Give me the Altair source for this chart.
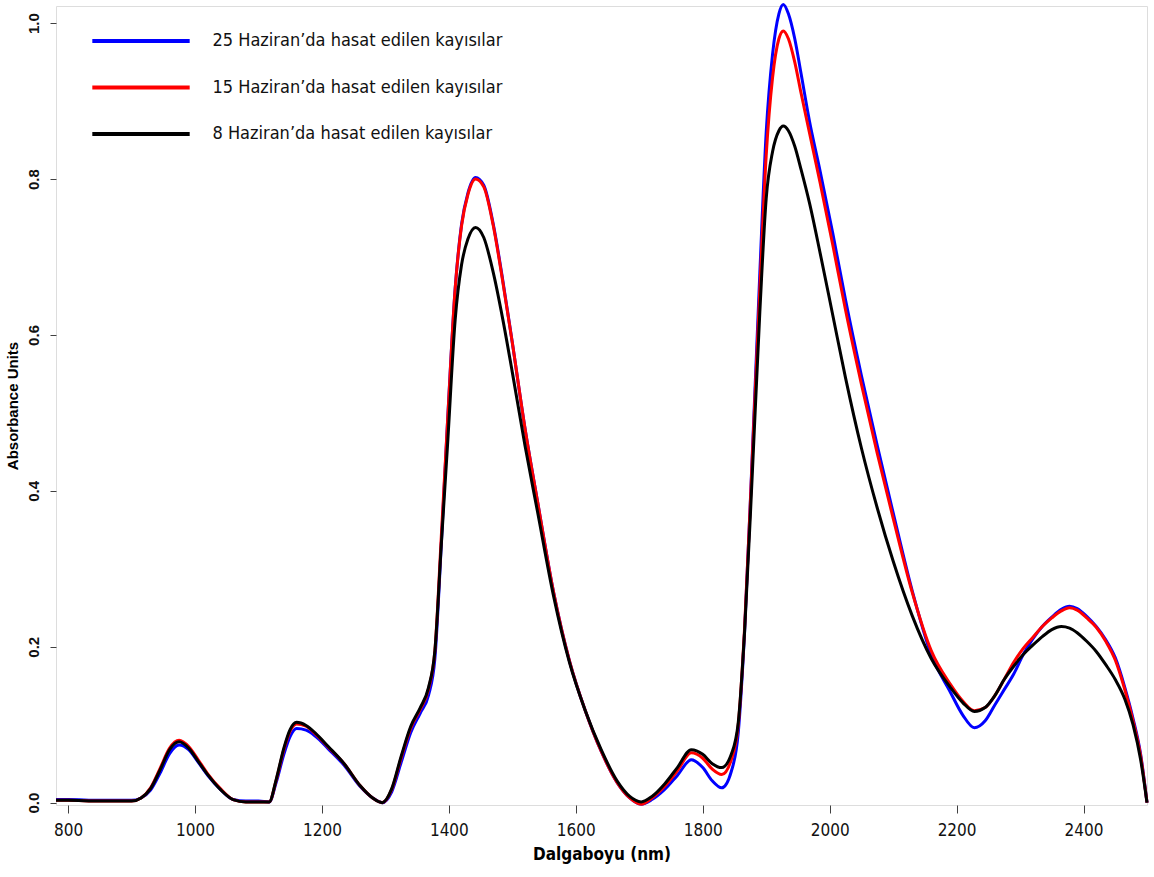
import altair as alt
import pandas as pd

wavelength = [781, 800, 850, 900, 915, 930, 945, 960, 975, 990, 1005, 1020, 1040, 1060, 1080, 1100,
              1117, 1128, 1140, 1150, 1160, 1175, 1190, 1210, 1235, 1260, 1280, 1295, 1310, 1325,
              1340, 1355, 1368, 1378, 1388, 1398, 1410, 1420, 1430, 1442, 1455, 1470, 1485, 1500,
              1520, 1540, 1565, 1590, 1615, 1640, 1665, 1685, 1703, 1720, 1740, 1760, 1782, 1800,
              1815, 1830, 1845, 1856, 1866, 1878, 1890, 1900, 1910, 1920, 1927, 1935, 1945, 1955,
              1968, 1985, 2005, 2025, 2050, 2075, 2100, 2130, 2160, 2190, 2210, 2228, 2245, 2260,
              2275, 2290, 2305, 2320, 2335, 2350, 2365, 2378, 2390, 2405, 2420, 2435, 2450, 2465,
              2478, 2490, 2500]

h8 = [0.003, 0.003, 0.002, 0.002, 0.006, 0.018, 0.042, 0.068, 0.078, 0.070, 0.053, 0.036, 0.017, 0.004, 0.001, 0.001,
      0.001, 0.030, 0.070, 0.094, 0.103, 0.099, 0.089, 0.072, 0.050, 0.022, 0.006, 0.000, 0.018, 0.060,
      0.098, 0.122, 0.148, 0.195, 0.330, 0.460, 0.620, 0.690, 0.723, 0.738, 0.725, 0.680, 0.620, 0.552,
      0.458, 0.372, 0.265, 0.180, 0.118, 0.068, 0.028, 0.008, 0.001, 0.008, 0.024, 0.045, 0.068, 0.062,
      0.050, 0.045, 0.062, 0.103, 0.220, 0.420, 0.630, 0.775, 0.835, 0.862, 0.868, 0.862, 0.842, 0.812,
      0.770, 0.705, 0.625, 0.545, 0.455, 0.378, 0.310, 0.240, 0.185, 0.148, 0.128, 0.117, 0.122, 0.137,
      0.158, 0.175, 0.190, 0.202, 0.213, 0.222, 0.226, 0.224, 0.218, 0.207, 0.194, 0.177, 0.158, 0.133,
      0.100, 0.055, 0.000]

h15 = [0.003, 0.003, 0.002, 0.002, 0.006, 0.019, 0.044, 0.070, 0.080, 0.072, 0.055, 0.037, 0.018, 0.004, 0.001, 0.001,
       0.001, 0.029, 0.068, 0.092, 0.101, 0.098, 0.088, 0.071, 0.050, 0.022, 0.006, 0.000, 0.017, 0.058,
       0.096, 0.120, 0.146, 0.195, 0.340, 0.490, 0.660, 0.740, 0.780, 0.800, 0.790, 0.740, 0.668, 0.590,
       0.480, 0.385, 0.270, 0.182, 0.118, 0.066, 0.026, 0.006, -0.002, 0.006, 0.021, 0.041, 0.064, 0.057,
       0.043, 0.036, 0.055, 0.100, 0.225, 0.440, 0.660, 0.830, 0.930, 0.980, 0.990, 0.980, 0.950, 0.910,
       0.860, 0.795, 0.715, 0.632, 0.537, 0.448, 0.365, 0.270, 0.195, 0.152, 0.130, 0.118, 0.122, 0.137,
       0.158, 0.180, 0.198, 0.212, 0.226, 0.237, 0.246, 0.250, 0.247, 0.237, 0.225, 0.207, 0.183, 0.145,
       0.105, 0.060, 0.000]

h25 = [0.004, 0.004, 0.003, 0.003, 0.006, 0.016, 0.038, 0.063, 0.074, 0.068, 0.052, 0.035, 0.017, 0.004, 0.002, 0.002,
       0.001, 0.026, 0.062, 0.085, 0.095, 0.093, 0.085, 0.069, 0.048, 0.021, 0.006, 0.000, 0.014, 0.052,
       0.090, 0.115, 0.138, 0.185, 0.330, 0.490, 0.660, 0.742, 0.782, 0.802, 0.792, 0.742, 0.670, 0.590,
       0.480, 0.385, 0.270, 0.182, 0.118, 0.066, 0.026, 0.006, -0.002, 0.004, 0.017, 0.035, 0.055, 0.045,
       0.028, 0.019, 0.040, 0.090, 0.220, 0.445, 0.680, 0.860, 0.960, 1.012, 1.024, 1.012, 0.980, 0.935,
       0.875, 0.810, 0.730, 0.645, 0.548, 0.458, 0.372, 0.272, 0.190, 0.142, 0.112, 0.096, 0.105, 0.125,
       0.145, 0.165, 0.190, 0.210, 0.226, 0.238, 0.248, 0.252, 0.249, 0.239, 0.226, 0.209, 0.186, 0.148,
       0.108, 0.062, 0.000]

labels = ["25 Haziran\u2019da hasat edilen kay\u0131s\u0131lar",
          "15 Haziran\u2019da hasat edilen kay\u0131s\u0131lar",
          "8 Haziran\u2019da hasat edilen kay\u0131s\u0131lar"]
colors = ["#0000ff", "#ff0000", "#000000"]
x_ticks = [800, 1000, 1200, 1400, 1600, 1800, 2000, 2200, 2400]
y_ticks = [0, 0.2, 0.4, 0.6, 0.8, 1.0]

frames = []
for lab, vals in zip(labels, [h25, h15, h8]):
    frames.append(pd.DataFrame({"wl": wavelength, "abs": vals, "series": lab}))
df = pd.concat(frames, ignore_index=True)

narrow = "Liberation Sans Narrow, DejaVu Sans Condensed, Liberation Sans"

x = alt.X("wl:Q", scale=alt.Scale(domain=[781, 2500], nice=False, zero=False),
          axis=alt.Axis(title="Dalgaboyu (nm)", values=x_ticks, format="d",
                        labelFont=narrow, labelFontSize=17, labelPadding=9, tickSize=8,
                        titleFont=narrow, titleFontSize=17, titleFontWeight="bold", titlePadding=8,
                        grid=False, domain=False, tickColor="#404040", labelColor="#111"))
y = alt.Y("abs:Q", scale=alt.Scale(domain=[-0.003, 1.022], nice=False, zero=False),
          axis=alt.Axis(title="Absorbance Units", values=y_ticks, format=".1f",
                        labelAngle=270, labelAlign="center", labelBaseline="bottom",
                        labelFont="Liberation Sans", labelFontSize=15, labelFontWeight="bold",
                        labelPadding=9, tickSize=6,
                        titleFont="Liberation Sans", titleFontSize=15, titleFontWeight="bold",
                        titlePadding=6, grid=False, domain=False, tickColor="#404040", labelColor="#111"))
color = alt.Color("series:N",
                  scale=alt.Scale(domain=labels, range=colors),
                  legend=alt.Legend(title=None, orient="none", legendX=59, legendY=9,
                                    symbolType="M-2.05,0H2.05", symbolSize=2256, symbolStrokeWidth=4,
                                    labelOffset=45.5, labelFont=narrow, labelFontSize=18,
                                    labelLimit=0, rowPadding=11.5, padding=0, labelColor="#111"))

layers = []
for lab in labels:
    layers.append(
        alt.Chart(df).transform_filter(alt.datum.series == lab)
        .mark_line(strokeWidth=3, interpolate="monotone")
        .encode(x=x, y=y, color=color)
    )

chart = alt.layer(*layers).properties(
    width=1091, height=799,
    padding={"left": 56, "top": 6, "right": 7, "bottom": 72},
    autosize=alt.AutoSizeParams(type="none"),
).configure_view(stroke="#404040", strokeWidth=1.2).configure(background="white")

chart.save("out.html", embed_options={"renderer": "svg", "actions": False})
